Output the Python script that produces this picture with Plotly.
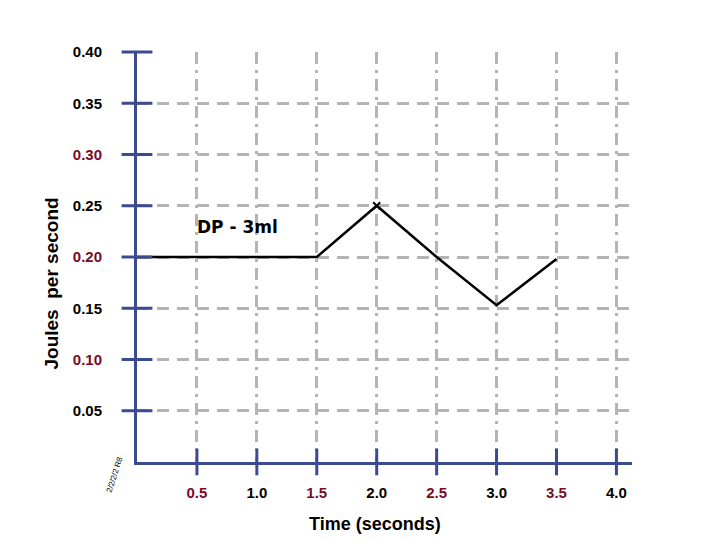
import plotly.graph_objects as go

time_s = [0.0, 1.5, 2.0, 2.5, 3.0, 3.5]
joules = [0.20, 0.20, 0.25, 0.20, 0.153, 0.198]
series_name = "DP - 3ml"

x_ticks = [0.5, 1.0, 1.5, 2.0, 2.5, 3.0, 3.5, 4.0]
x_tick_labels = ["0.5", "1.0", "1.5", "2.0", "2.5", "3.0", "3.5", "4.0"]
x_tick_red = [True, False, True, False, True, False, True, False]
y_ticks = [0.05, 0.10, 0.15, 0.20, 0.25, 0.30, 0.35, 0.40]
y_tick_labels = ["0.05", "0.10", "0.15", "0.20", "0.25", "0.30", "0.35", "0.40"]
y_tick_red = [False, True, False, True, False, True, False, False]

RED = "#7a0a2a"
AXIS = "#3b4b8e"
GRID = "#b4b4b4"
FONT = "Liberation Sans"

def colored(labels, reds):
    return [f'<span style="color:{RED}">{t}</span>' if r else t for t, r in zip(labels, reds)]

fig = go.Figure()

# main series
fig.add_trace(go.Scatter(x=time_s, y=joules, mode="lines",
                         line=dict(color="black", width=2.5), showlegend=False,
                         cliponaxis=False))
# peak marker
pk = joules.index(max(joules))
fig.add_trace(go.Scatter(x=[time_s[pk]], y=[joules[pk]], mode="markers",
                         marker=dict(symbol="x-thin-open", size=7, color="black",
                                     line=dict(color="black", width=2)),
                         showlegend=False, cliponaxis=False))
# crossing ticks on y axis
fig.add_trace(go.Scatter(x=[0] * len(y_ticks), y=y_ticks, mode="markers",
                         marker=dict(symbol="line-ew-open", size=22, color=AXIS,
                                     line=dict(color=AXIS, width=3)),
                         showlegend=False, cliponaxis=False, hoverinfo="skip"))
# crossing ticks on x axis
fig.add_trace(go.Scatter(x=x_ticks, y=[0] * len(x_ticks), mode="markers",
                         marker=dict(symbol="line-ns-open", size=19, color=AXIS,
                                     line=dict(color=AXIS, width=3)),
                         showlegend=False, cliponaxis=False, hoverinfo="skip"))

fig.add_annotation(x=0.84, y=0.229, text="<b>" + series_name + "</b>", showarrow=False,
                   font=dict(family="DejaVu Sans", size=17, color="black"))
fig.add_annotation(xref="paper", yref="paper", x=-0.045, y=0.022,
                   xanchor="center", yanchor="top",
                   text="2/2/2/2 R8", showarrow=False, textangle=-72,
                   font=dict(family=FONT, size=8, color="black"))
# axis titles
fig.add_annotation(xref="paper", yref="paper", x=-0.172, y=0.435, xanchor="center", yanchor="middle",
                   text="<b>Joules  per second</b>", showarrow=False, textangle=-90,
                   font=dict(family=FONT, size=19, color="black"))
fig.add_annotation(xref="paper", yref="paper", x=0.481, y=-0.152, xanchor="center", yanchor="middle",
                   text="<b>Time (seconds)</b>", showarrow=False,
                   font=dict(family=FONT, size=18, color="black"))

fig.update_xaxes(range=[0, 4.13], tickvals=x_ticks, ticktext=colored(x_tick_labels, x_tick_red),
                 ticks="outside", ticklen=15, tickcolor="rgba(0,0,0,0)",
                 showline=True, linecolor=AXIS, linewidth=3,
                 showgrid=True, gridcolor=GRID, gridwidth=2.5, griddash="12px,6px,3px,6px",
                 zeroline=False, automargin=False,
                 tickfont=dict(family=FONT, size=15, color="black", weight="bold"))
fig.update_yaxes(range=[0, 0.40], tickvals=y_ticks, ticktext=colored(y_tick_labels, y_tick_red),
                 ticks="outside", ticklen=29, tickcolor="rgba(0,0,0,0)",
                 showline=True, linecolor=AXIS, linewidth=3,
                 showgrid=True, gridcolor=GRID, gridwidth=2.5, griddash="12px,8px",
                 zeroline=False, automargin=False,
                 tickfont=dict(family=FONT, size=15, color="black", weight="bold"))

# page body has an 8px margin; size the figure so the plot lands where the reference has it
fig.update_layout(width=712, height=532, margin=dict(l=129, r=88, t=44, b=78),
                  plot_bgcolor="white", paper_bgcolor="white",
                  font=dict(family=FONT))

fig.write_html("out.html")
